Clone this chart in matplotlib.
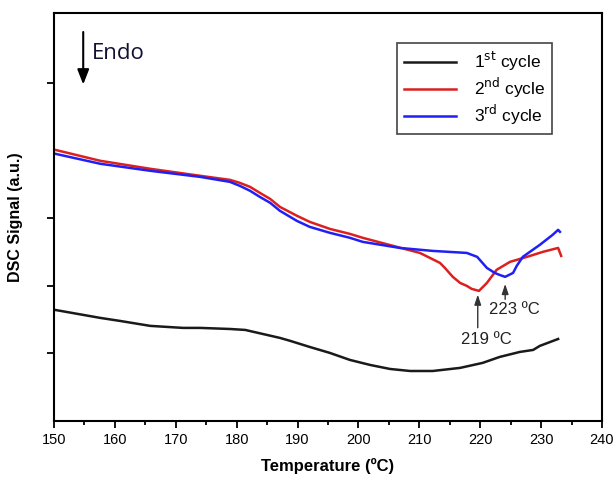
import matplotlib
matplotlib.use('Agg')
import matplotlib.pyplot as plt
from matplotlib.ticker import MultipleLocator

plt.rcParams['font.family'] = ['Liberation Sans', 'DejaVu Sans']

# ---- data (signal in arbitrary units)
t_cycle1 = [150.2, 157.6, 160.8, 165.8, 171.2, 174.0, 178.9, 181.4, 184.3,
            187.1, 188.8, 192.0, 195.3, 198.6, 201.9, 205.2, 208.5, 212.2,
            216.7, 220.4, 223.2, 226.5, 228.7, 229.8, 232.8]
s_cycle1 = [0.322, 0.263, 0.241, 0.204, 0.189, 0.189, 0.181, 0.174, 0.144,
            0.115, 0.093, 0.048, 0.004, -0.048, -0.085, -0.115, -0.130, -0.130,
            -0.107, -0.070, -0.026, 0.011, 0.026, 0.056, 0.107]

t_cycle2 = [150.2, 157.6, 165.8, 174.0, 178.9, 180.5, 182.2, 183.8, 185.5,
            187.1, 189.9, 192.0, 195.3, 198.6, 200.7, 206.3, 210.1, 213.4,
            214.2, 215.5, 216.7, 217.8, 218.6, 219.8, 221.1, 222.7, 224.9,
            227.7, 230.3, 232.8, 233.3]
s_cycle2 = [1.507, 1.426, 1.367, 1.315, 1.285, 1.263, 1.233, 1.189, 1.144,
            1.085, 1.019, 0.974, 0.922, 0.885, 0.856, 0.789, 0.744, 0.670,
            0.633, 0.567, 0.522, 0.500, 0.478, 0.463, 0.522, 0.619, 0.678,
            0.715, 0.752, 0.781, 0.722]

t_cycle3 = [150.2, 157.6, 165.8, 174.0, 178.9, 180.5, 182.2, 183.8, 185.5,
            187.1, 189.9, 192.0, 195.3, 198.6, 200.7, 206.8, 212.2, 217.8,
            219.5, 221.1, 222.4, 223.2, 224.1, 225.4, 226.0, 227.0, 229.8,
            231.9, 232.8, 233.1]
s_cycle3 = [1.478, 1.404, 1.352, 1.307, 1.270, 1.241, 1.204, 1.159, 1.115,
            1.056, 0.981, 0.937, 0.893, 0.856, 0.826, 0.781, 0.759, 0.744,
            0.715, 0.633, 0.596, 0.581, 0.567, 0.596, 0.648, 0.715, 0.804,
            0.878, 0.915, 0.900]

labels = [r'1$^{\rm st}$ cycle', r'2$^{\rm nd}$ cycle', r'3$^{\rm rd}$ cycle']
colors = ['#1a1a1a', '#dc2020', '#2020f5']

fig = plt.figure(figsize=(6.15, 4.82), dpi=100)
ax = fig.add_axes([0.0878, 0.1266, 0.891, 0.8464])

ax.plot(t_cycle1, s_cycle1, color=colors[0], lw=1.8, label=labels[0])
ax.plot(t_cycle2, s_cycle2, color=colors[1], lw=1.8, label=labels[1])
ax.plot(t_cycle3, s_cycle3, color=colors[2], lw=1.8, label=labels[2])

ax.set_xlim(150, 240)
ax.set_ylim(-0.5, 2.52)
ax.xaxis.set_major_locator(MultipleLocator(10))
ax.xaxis.set_minor_locator(MultipleLocator(5))
ax.set_yticks([0, 0.5, 1, 2])
ax.set_yticklabels([])
ax.tick_params(axis='both', which='major', direction='out', length=5,
               width=1.3, labelsize=10.5)
ax.tick_params(axis='x', which='minor', direction='out', length=3, width=1.3)
for sp in ax.spines.values():
    sp.set_linewidth(1.5)

ax.set_xlabel('Temperature (ºC)', fontsize=12, fontweight='bold', labelpad=8)
ax.set_ylabel('DSC Signal (a.u.)', fontsize=11.5, fontweight='bold', labelpad=14)

leg = ax.legend(loc='upper right', bbox_to_anchor=(0.909, 0.926),
                borderaxespad=0, fontsize=12.5, fancybox=False,
                handlelength=3.0, handletextpad=1.0, labelspacing=0.15,
                borderpad=0.4)
leg.get_frame().set_edgecolor('#444444')
leg.get_frame().set_linewidth(1.2)
leg.get_frame().set_alpha(1)

# Endo arrow
ax.annotate('', xy=(154.8, 1.97), xytext=(154.8, 2.40),
            arrowprops=dict(arrowstyle='-|>,head_width=0.35,head_length=0.9',
                            color='black', lw=1.5))
ax.text(156.2, 2.22, 'Endo', fontsize=16, family=['Open Sans', 'DejaVu Sans'],
        color='#111133', va='center', ha='left')

# peak annotations
ax.annotate('', xy=(219.6, 0.456), xytext=(219.6, 0.17),
            arrowprops=dict(arrowstyle='-|>,head_width=0.2,head_length=0.6',
                            color='#333333', lw=1.0))
ax.text(221.0, 0.10, '219 ºC', fontsize=12, ha='center', va='center',
        color='#222222')
ax.annotate('', xy=(224.1, 0.535), xytext=(224.1, 0.38),
            arrowprops=dict(arrowstyle='-|>,head_width=0.2,head_length=0.6',
                            color='#333333', lw=1.0))
ax.text(225.6, 0.322, '223 ºC', fontsize=12, ha='center', va='center',
        color='#222222')

fig.savefig('out.png', dpi=100)
